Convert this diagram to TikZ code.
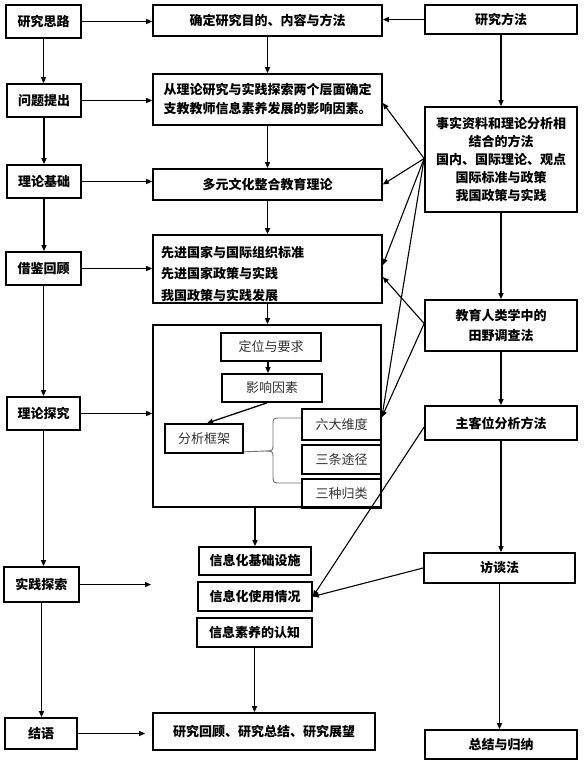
\documentclass[tikz,border=0pt]{standalone}
\usepackage{fontspec}
\newfontfamily\cjk{Noto Sans CJK SC}
\usetikzlibrary{arrows.meta,calc}
\newcommand\bx[6][]{\node[box,#1,minimum width={(#4)-(#2)},minimum height={(#5)-(#3)}] (#6) at ({((#2)+(#4))/2},{((#3)+(#5))/2})}
\begin{document}
\begin{tikzpicture}[x=1pt,y=-1pt,
  box/.style={draw, line width=1.7pt, inner sep=0pt, align=center,
    font=\cjk\bfseries\fontsize{13}{19}\selectfont},
  ibox/.style={box, text=black!80, font=\cjk\fontsize{13}{19}\selectfont},
  lbl/.style={inner sep=0pt, align=left, font=\cjk\bfseries\fontsize{13}{21.5}\selectfont},
  arr/.style={line width=1.3pt, -{Triangle[length=6pt,width=5pt]}},
  fan/.style={line width=1.1pt, -{Triangle[length=6pt,width=5pt]}},
  bracegray/.style={draw=black!55, line width=0.9pt}
]
\useasboundingbox[fill=white] (0,0) rectangle (586,771);

% left column
\bx{6}{5}{81}{38}{L1}{研究思路};
\bx{7}{84}{81}{117}{L2}{问题提出};
\bx{7}{165}{81}{198}{L3}{理论基础};
\bx{6}{252}{81}{285}{L4}{借鉴回顾};
\bx{7}{397}{80}{430}{L5}{理论探究};
\bx{4}{567}{79}{602}{L6}{实践探索};
\bx{5}{718}{77}{749}{L7}{结语};

% middle column
\bx{153}{5}{382}{36}{M1}{确定研究目的、内容与方法};
\bx{153}{74}{382}{125}{M2}{从理论研究与实践探索两个层面确定\\支教教师信息素养发展的影响因素。};
\bx{153}{169}{382}{200}{M3}{多元文化整合教育理论};
\bx{153}{235}{382}{303}{M4}{};
\node[lbl, anchor=west] (M4t) at (161,274) {先进国家与国际组织标准\\先进国家政策与实践\\我国政策与实践发展};
\bx{153}{325}{381}{507}{B}{};
\bx[ibox]{221}{333}{321}{361}{D}{定位与要求};
\bx[ibox]{222}{374}{322}{402}{Y}{影响因素};
\bx[ibox]{165}{424}{243}{453}{F}{分析框架};
\bx[ibox]{302}{409}{381}{440}{S1}{六大维度};
\bx[ibox]{302}{445}{381}{474}{S2}{三条途径};
\bx[ibox]{302}{479}{381}{508}{S3}{三种归类};
\bx{199}{547}{311}{575}{U1}{信息化基础设施};
\bx{198}{582}{312}{611}{U2}{信息化使用情况};
\bx{197}{618}{312}{647}{U3}{信息素养的认知};
\bx{153}{713}{375}{750}{Rv}{研究回顾、研究总结、研究展望};

% right column
\bx{425}{5}{577}{34}{R1}{研究方法};
\bx[font=\cjk\bfseries\fontsize{13}{18}\selectfont]{425}{107}{577}{212}{R2}
  {事实资料和理论分析相\\结合的方法\\国内、国际理论、观点\\国际标准与政策\hspace*{18pt}\\我国政策与实践};
\bx[font=\cjk\bfseries\fontsize{13}{20}\selectfont]{425}{300}{577}{351}{R3}{教育人类学中的\\田野调查法};
\bx{425}{406}{577}{440}{R4}{主客位分析方法};
\bx{424}{553}{575}{583}{R5}{访谈法};
\bx{425}{730}{577}{759}{R6}{总结与归纳};

\coordinate (L6t) at (151,585);

% top horizontal
\draw[arr] (L1.east) -- (L1.east -| M1.west);
\draw[arr] (R1.west) -- (R1.west -| M1.east);

% left verticals
\draw[arr] (L1.south) -- (L1.south |- L2.north);
\draw[arr] (L2.south) -- (L2.south |- L3.north);
\draw[arr] (L3.south) -- (L3.south |- L4.north);
\draw[arr] (L4.south) -- (L4.south |- L5.north);
\draw[arr] (L5.south) -- (L5.south |- L6.north);
\draw[arr] (L6.south) -- (L6.south |- L7.north);

% left to middle
\draw[arr] (L2.east) -- (L2.east -| M2.west);
\draw[arr] (L3.east) -- (L3.east -| M3.west);
\draw[arr] (L4.east) -- (L4.east -| M4.west);
\draw[arr] (L5.east) -- (L5.east -| B.west);
\draw[arr] (L6.east) -- (L6.east -| L6t);
\draw[arr, shorten >=7pt] (L7.east) -- (L7.east -| Rv.west);

% middle verticals
\draw[arr] (M1.south) -- (M1.south |- M2.north);
\draw[arr] (M2.south) -- (M2.south |- M3.north);
\draw[arr] (M3.south) -- (M3.south |- M4.north);
\draw[arr] (M4.south) -- (M4.south |- B.north);
\draw[arr] (U1.north |- B.south) -- (U1.north);
\draw[arr] (U3.south) -- (U3.south |- Rv.north);

% inside big box
\draw[arr] ([xshift=-3pt]D.south) -- ([xshift=-3pt]D.south |- Y.north);
\draw[arr] ([xshift=-5pt]Y.south) -- ([xshift=3pt]F.north);
\draw[bracegray] ([yshift=2pt]F.south east) -- (265,451)
  .. controls (273,451) .. (273,443) -- (273,426)
  .. controls (273,418) .. (281,418) -- (S1.west |- 0,418);
\draw[bracegray] (265,451) .. controls (273,451) .. (273,459) -- (273,475)
  .. controls (273,483) .. (281,483) -- (S3.west |- 0,483);

% right verticals
\draw[arr] (R1.south) -- (R1.south |- R2.north);
\draw[arr] (R2.south) -- (R2.south |- R3.north);
\draw[arr] (R3.south) -- (R3.south |- R4.north);
\draw[arr] (R4.south) -- (R4.south |- R5.north);
\draw[arr] (R5.south) -- (R5.south |- R6.north);

% fan connectors
\draw[fan] ([yshift=1pt]R2.west) -- ([yshift=-3.5pt]M2.east);
\draw[fan] ([yshift=1pt]R2.west) -- (M3.east);
\draw[fan] ([yshift=1pt]R2.west) -- ([yshift=4pt]M4.east);
\draw[fan] ([yshift=1pt]R2.west) -- ([yshift=-9pt]S1.north east);
\draw[fan] ([yshift=2pt]R3.west) -- ([yshift=-8pt]M4.east);
\draw[fan] ([yshift=2pt]R3.west) -- ([yshift=-9pt]S1.north east);
\draw[fan] ([yshift=-4pt]R4.west) -- (U2.east);
\draw[fan] (R5.west) -- (U2.east);
\end{tikzpicture}
\end{document}
